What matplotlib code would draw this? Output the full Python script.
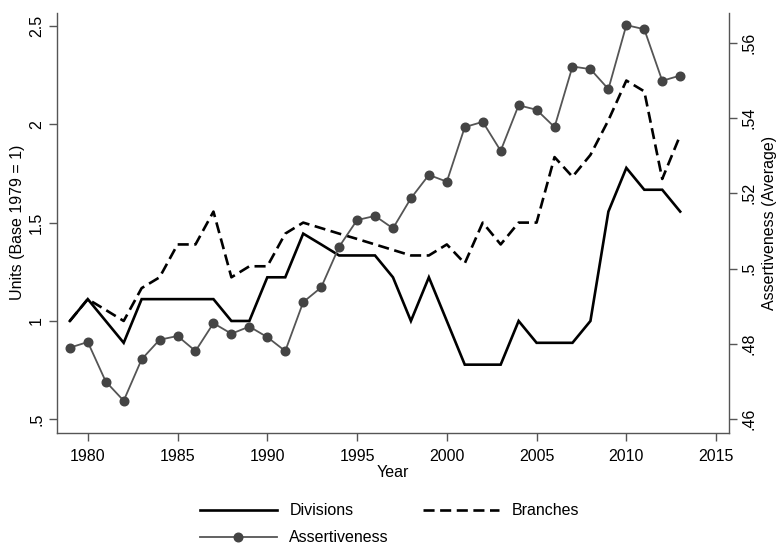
import matplotlib
matplotlib.use("Agg")
import matplotlib.pyplot as plt
from matplotlib.ticker import FixedLocator, FixedFormatter

plt.rcParams['font.family'] = ['Liberation Sans', 'DejaVu Sans']

years = list(range(1979, 2014))

divisions = [1.000, 1.111, 1.000, 0.889, 1.111, 1.111, 1.111, 1.111, 1.111, 1.000,
             1.000, 1.222, 1.222, 1.444, 1.389, 1.333, 1.333, 1.333, 1.222, 1.000,
             1.222, 1.000, 0.778, 0.778, 0.778, 1.000, 0.889, 0.889, 0.889, 1.000,
             1.556, 1.778, 1.667, 1.667, 1.556]

branches = [1.000, 1.111, 1.056, 1.000, 1.167, 1.222, 1.389, 1.389, 1.556, 1.222,
            1.278, 1.278, 1.444, 1.500, 1.472, 1.444, 1.417, 1.389, 1.361, 1.333,
            1.333, 1.389, 1.293, 1.500, 1.389, 1.500, 1.500, 1.833, 1.733, 1.844,
            2.020, 2.222, 2.167, 1.722, 1.944]

assertiveness = [0.4790, 0.4805, 0.4700, 0.4649, 0.4759, 0.4811, 0.4821, 0.4781, 0.4855, 0.4827,
                 0.4846, 0.4818, 0.4781, 0.4911, 0.4950, 0.5058, 0.5129, 0.5140, 0.5107, 0.5187,
                 0.5249, 0.5231, 0.5376, 0.5390, 0.5313, 0.5434, 0.5422, 0.5376, 0.5537, 0.5530,
                 0.5477, 0.5647, 0.5636, 0.5499, 0.5513]

x_ticks = [1980, 1985, 1990, 1995, 2000, 2005, 2010, 2015]
left_ticks = [0.5, 1.0, 1.5, 2.0, 2.5]
left_labels = [".5", "1", "1.5", "2", "2.5"]
right_ticks = [0.46, 0.48, 0.50, 0.52, 0.54, 0.56]
right_labels = [".46", ".48", ".5", ".52", ".54", ".56"]

axis_col = "#555555"
fs = 11.5

fig = plt.figure(figsize=(7.76, 5.49), dpi=100)
ax = fig.add_axes([0.0738, 0.2118, 0.8652, 0.7651])
ax2 = ax.twinx()

l_div, = ax.plot(years, divisions, color="black", lw=1.9, solid_joinstyle="miter", label="Divisions")
l_br, = ax.plot(years, branches, color="black", lw=1.9, ls=(0, (4.2, 2.1)), label="Branches")
l_as, = ax2.plot(years, assertiveness, color="#555555", lw=1.3, marker="o", markersize=6.2,
                 markerfacecolor="#444444", markeredgecolor="#444444", label="Assertiveness")

ax.set_xlim(1978.3, 2015.7)
ax.set_ylim(0.432, 2.567)
ax2.set_ylim(0.4564, 0.568)

ax.xaxis.set_major_locator(FixedLocator(x_ticks))
ax.yaxis.set_major_locator(FixedLocator(left_ticks))
ax.yaxis.set_major_formatter(FixedFormatter(left_labels))
ax2.yaxis.set_major_locator(FixedLocator(right_ticks))
ax2.yaxis.set_major_formatter(FixedFormatter(right_labels))

for a in (ax, ax2):
    a.spines['top'].set_visible(False)
    for s in ('left', 'right', 'bottom'):
        a.spines[s].set_color(axis_col)
        a.spines[s].set_linewidth(1.0)
    a.tick_params(axis='both', direction='out', length=5.5, width=1.0, color=axis_col,
                  labelsize=fs, labelcolor="black")

ax.spines['right'].set_visible(False)
ax2.spines['left'].set_visible(False)
ax2.spines['bottom'].set_visible(False)

for lab in ax.get_yticklabels():
    lab.set_rotation(90)
    lab.set_va('center')
for lab in ax2.get_yticklabels():
    lab.set_rotation(90)
    lab.set_va('center')

ax.tick_params(axis='y', pad=4)
ax2.tick_params(axis='y', pad=4)
ax.tick_params(axis='x', pad=6)

ax.set_xlabel("Year", fontsize=fs, labelpad=1)
ax.set_ylabel("Units (Base 1979 = 1)", fontsize=fs, labelpad=3)
ax2.set_ylabel("Assertiveness (Average)", fontsize=fs, rotation=90, labelpad=4)

fig.legend(handles=[l_div, l_as, l_br], ncol=2, frameon=False, fontsize=fs,
           loc="upper left", bbox_to_anchor=(0.2577, 0.083), borderpad=0, borderaxespad=0,
           handlelength=4.8, handletextpad=0.8, columnspacing=2.1, labelspacing=0.75)

fig.savefig("out.png", dpi=100)
